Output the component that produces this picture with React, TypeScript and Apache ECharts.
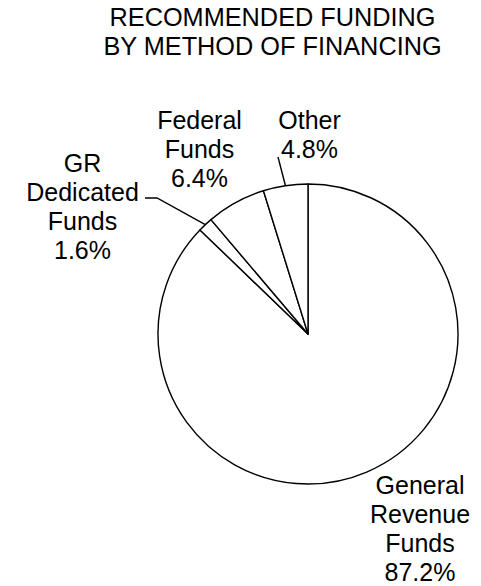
import React, { useEffect, useRef } from 'react';
import * as echarts from 'echarts';

const titleLines = ['RECOMMENDED FUNDING', 'BY METHOD OF FINANCING'];
const categories = ['General Revenue Funds', 'GR Dedicated Funds', 'Federal Funds', 'Other'];
const shares = [87.2, 1.6, 6.4, 4.8];

const FONT = '"Liberation Sans", Arial, Helvetica, sans-serif';
const FONT_SIZE = 25;
const TITLE_SIZE = 25.3;
const LINE_H = 29;

// label layout (centres of text blocks) and leader-line bends, per slice
const labelAnchors: number[][] = [
  [420, 528.5],
  [82.5, 206],
  [199.5, 149],
  [309.5, 134.5],
];
const leaderBends: (number[][] | null)[] = [
  null,
  [[157, 198], [145, 198]],
  null,
  [[278, 157], [278, 157]],
];

export default function App() {
  const ref = useRef<HTMLDivElement>(null);
  useEffect(() => {
    if (!ref.current) return;
    const chart = echarts.init(ref.current, undefined, { renderer: 'svg' });
    const data = categories.map((name, i) => ({
      name,
      value: shares[i],
      labelLine: { show: leaderBends[i] !== null },
    }));
    chart.setOption({
      animation: false,
      backgroundColor: '#ffffff',
      title: {
        text: titleLines.join('\n'),
        left: 267.5,
        top: -2,
        textAlign: 'center',
        textStyle: {
          fontFamily: FONT,
          fontSize: TITLE_SIZE,
          fontWeight: 'normal',
          color: '#000',
          lineHeight: 28.5,
        },
      },
      series: [
        {
          type: 'pie',
          center: [308, 334],
          radius: 150,
          startAngle: 90,
          clockwise: true,
          avoidLabelOverlap: false,
          silent: true,
          itemStyle: { color: '#ffffff', borderColor: '#000000', borderWidth: 1.4 },
          label: {
            show: true,
            position: 'outside',
            fontFamily: FONT,
            fontSize: FONT_SIZE,
            lineHeight: LINE_H,
            color: '#000',
            align: 'center',
            formatter: (p: any) => `${String(p.name).split(' ').join('\n')}\n${p.value}%`,
          },
          labelLine: { lineStyle: { color: '#000', width: 1.4 }, length: 10, length2: 10 },
          labelLayout: (params: any) => {
            const i = params.dataIndex;
            const [x, y] = labelAnchors[i];
            const res: any = { x, y, align: 'center', verticalAlign: 'middle' };
            const bend = leaderBends[i];
            if (bend && params.labelLinePoints) {
              res.labelLinePoints = [params.labelLinePoints[0], bend[0], bend[1]];
            }
            return res;
          },
          data,
        },
      ],
    });
    return () => chart.dispose();
  }, []);
  return (
    <div
      ref={ref}
      style={{ position: 'absolute', left: 0, top: 0, width: 481, height: 586 }}
    />
  );
}
